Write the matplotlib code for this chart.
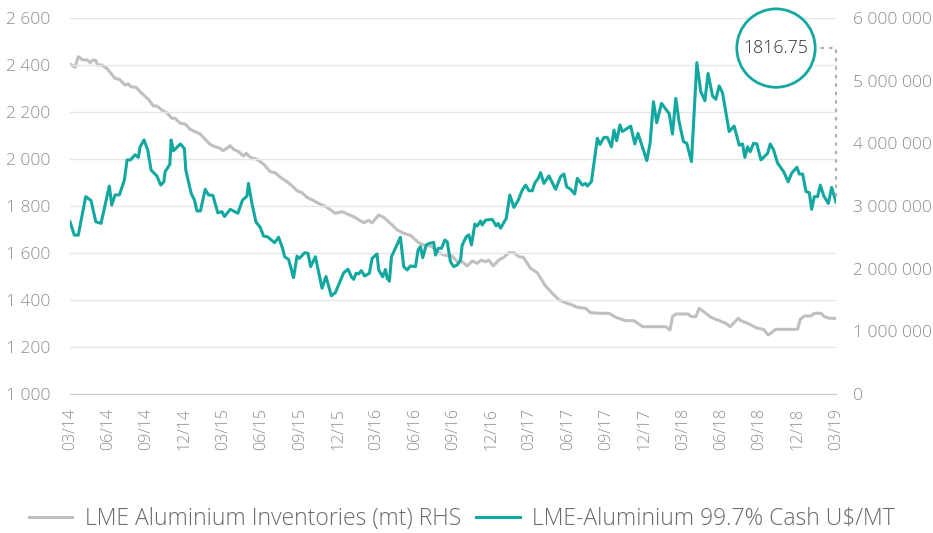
import matplotlib
matplotlib.use("Agg")
import matplotlib.pyplot as plt
from matplotlib.ticker import FuncFormatter, FixedLocator

# ---- data (x = months since 03/2014) ----
price_t = [0.00, 0.34, 0.65, 1.23, 1.65, 2.02, 2.43, 3.08, 3.27, 3.53, 3.87, 4.26, 4.47, 4.73,
           5.10, 5.36, 5.49, 5.80, 6.09, 6.35, 6.80, 7.11, 7.35, 7.45, 7.82, 7.92, 8.10, 8.65,
           8.96, 9.07, 9.49, 9.75, 9.94, 10.22, 10.59, 10.85, 11.19, 11.58, 11.90, 12.10, 12.55,
           13.15, 13.51, 13.86, 13.98, 14.25, 14.56, 14.90, 15.16, 15.47, 16.02, 16.34, 16.65,
           16.81, 17.12, 17.51, 17.78, 17.96, 18.38, 18.64, 18.85, 19.22, 19.74, 20.05, 20.47,
           20.78, 21.44, 21.78, 22.04, 22.22, 22.41, 22.61, 22.82, 23.08, 23.45, 23.66, 24.05,
           24.18, 24.49, 24.71, 24.84, 25.02, 25.18, 25.49, 25.88, 26.14, 26.41, 26.67, 27.06,
           27.27, 27.45, 27.63, 27.90, 28.16, 28.49, 28.63, 28.84, 29.10, 29.36, 29.55, 29.80,
           30.06, 30.33, 30.59, 30.72, 31.04, 31.24, 31.45, 31.71, 31.90, 32.16, 32.29, 32.55,
           33.07, 33.39, 33.54, 33.73, 33.91, 34.17, 34.45, 34.77, 35.11, 35.43, 35.69, 35.95,
           36.21, 36.42, 36.68, 36.86, 37.12, 37.51, 38.04, 38.43, 38.69, 38.90, 39.22, 39.53,
           39.74, 40.13, 40.39, 40.52, 40.84, 41.31, 41.51, 41.83, 42.09, 42.41, 42.61, 42.82,
           43.08, 43.27, 43.92, 44.24, 44.49, 45.18, 45.44, 45.70, 45.96, 46.33, 46.75, 46.93,
           47.19, 47.45, 47.71, 48.05, 48.31, 48.68, 49.10, 49.41, 49.73, 49.98, 50.33, 50.59,
           50.85, 51.11, 51.63, 52.02, 52.42, 52.68, 52.86, 53.07, 53.28, 53.54, 53.80, 54.12,
           54.64, 54.85, 55.11, 55.43, 55.90, 56.26, 56.52, 56.94, 57.12, 57.39, 57.65, 57.91,
           58.09, 58.30, 58.56, 58.77, 59.04, 59.40, 59.66, 60.00]
price = [1733, 1676, 1676, 1840, 1823, 1733, 1726, 1885, 1804, 1847, 1847, 1911, 1996, 1996,
         2018, 2007, 2052, 2081, 2038, 1953, 1928, 1889, 1903, 1946, 1977, 2081, 2035, 2064,
         2044, 1953, 1854, 1825, 1779, 1779, 1871, 1847, 1845, 1771, 1776, 1755, 1786,
         1769, 1825, 1842, 1896, 1811, 1733, 1709, 1672, 1669, 1644, 1667, 1620,
         1584, 1573, 1495, 1587, 1577, 1601, 1599, 1542, 1584, 1450, 1500, 1418,
         1431, 1516, 1531, 1499, 1488, 1514, 1511, 1525, 1502, 1514, 1577, 1596,
         1528, 1499, 1530, 1492, 1480, 1584, 1620, 1667, 1542, 1528, 1545, 1542,
         1613, 1627, 1580, 1634, 1641, 1645, 1591, 1620, 1620, 1655, 1648, 1563,
         1542, 1549, 1570, 1634, 1669, 1677, 1634, 1723, 1715, 1736, 1719, 1740,
         1743, 1715, 1726, 1705, 1723, 1747, 1847, 1794, 1825, 1868, 1889, 1865,
         1865, 1899, 1918, 1942, 1896, 1928, 1871, 1925, 1936, 1882, 1871, 1851,
         1918, 1889, 1896, 1885, 1903, 2088, 2062, 2092, 2092, 2052, 2123, 2078,
         2145, 2117, 2140, 2064, 2109, 1993, 2067, 2244, 2154, 2237, 2206, 2194,
         2106, 2258, 2159, 2074, 2067, 1989, 2410, 2286, 2248, 2364, 2268, 2254,
         2311, 2282, 2117, 2140, 2059, 2064, 2007, 2052, 2031, 2067, 2064, 1996,
         2024, 2064, 2038, 1982, 1946, 1903, 1939, 1965, 1936, 1936, 1861, 1857,
         1786, 1840, 1840, 1889, 1843, 1811, 1879, 1816.75]

inv_t = [0.00, 0.39, 0.65, 1.00, 1.36, 1.57, 1.83, 2.04, 2.14, 2.49, 2.88, 3.53, 3.87, 4.31,
         4.57, 4.76, 5.18, 5.49, 6.14, 6.53, 6.80, 7.19, 7.58, 7.98, 8.24, 8.63, 9.02, 9.41,
         9.80, 10.20, 10.59, 10.98, 11.37, 11.76, 11.98, 12.29, 12.55, 12.81, 13.20, 13.59,
         13.80, 14.12, 14.64, 15.16, 15.69, 16.08, 16.47, 17.00, 17.47, 17.78, 18.17, 18.56,
         19.08, 19.47, 20.13, 20.78, 21.31, 22.22, 23.00, 23.40, 23.66, 24.18, 24.57, 25.23,
         25.62, 26.14, 26.67, 27.32, 27.71, 28.37, 28.76, 29.28, 29.94, 30.33, 30.72, 31.11,
         31.51, 31.90, 32.21, 32.55, 32.81, 33.15, 33.59, 33.98, 34.38, 34.77, 35.16, 35.51,
         36.08, 36.60, 37.25, 37.78, 38.30, 38.82, 39.35, 39.74, 40.39, 40.78, 41.57, 42.22,
         42.75, 43.53, 44.18, 44.84, 46.67, 47.00, 47.19, 47.45, 48.42, 48.68, 49.02, 49.28,
         49.80, 50.20, 50.85, 51.37, 51.71, 52.34, 52.55, 53.07, 53.86, 54.33, 54.69, 55.29,
         56.99, 57.20, 57.51, 58.04, 58.30, 58.82, 59.08, 59.47, 60.00]
inventories = [5266000, 5213000, 5383000, 5330000, 5330000, 5287000, 5330000, 5320000, 5250000,
               5250000, 5197000, 5037000, 5021000, 4931000, 4947000, 4904000, 4894000, 4824000,
               4702000, 4596000, 4596000, 4532000, 4489000, 4399000, 4399000, 4320000, 4309000,
               4224000, 4186000, 4149000, 4064000, 3984000, 3946000, 3921000, 3883000, 3921000,
               3962000, 3905000, 3867000, 3798000, 3841000, 3777000, 3745000, 3670000, 3547000,
               3530000, 3458000, 3388000, 3308000, 3244000, 3212000, 3139000, 3085000, 3042000,
               2979000, 2883000, 2909000, 2829000, 2734000, 2770000, 2730000, 2856000, 2820000,
               2697000, 2620000, 2564000, 2530000, 2415000, 2378000, 2351000, 2271000, 2218000,
               2202000, 2111000, 2111000, 2043000, 2122000, 2085000, 2138000, 2110000, 2138000,
               2043000, 2138000, 2181000, 2255000, 2255000, 2191000, 2181000, 2005000, 1936000,
               1723000, 1607000, 1500000, 1457000, 1420000, 1383000, 1367000, 1297000, 1288000,
               1288000, 1224000, 1170000, 1170000, 1074000, 1074000, 1021000, 1234000, 1277000,
               1277000, 1234000, 1234000, 1367000, 1288000, 1224000, 1170000, 1128000, 1074000,
               1208000, 1170000, 1128000, 1048000, 1030000, 941000, 1032000, 1032000, 1192000,
               1245000, 1245000, 1288000, 1288000, 1234000, 1208000, 1208000]

tick_months = list(range(0, 61, 3))
tick_labels = ["03/14", "06/14", "09/14", "12/14", "03/15", "06/15", "09/15", "12/15",
               "03/16", "06/16", "09/16", "12/16", "03/17", "06/17", "09/17", "12/17",
               "03/18", "06/18", "09/18", "12/18", "03/19"]
last_label = "1816.75"
series_names = ["LME Aluminium Inventories (mt) RHS", "LME-Aluminium 99.7% Cash U$/MT"]

# ---- styling ----
plt.rcParams['font.family'] = ['Open Sans', 'DejaVu Sans']
plt.rcParams['font.weight'] = 'light'
TEAL = "#12a8a0"
GRAY = "#c0c0c0"
TXT = "#8c8c8c"

fig = plt.figure(figsize=(9.33, 5.33), dpi=100)
ax = fig.add_axes([70/933, 1 - 394/533, (836-70)/933, (394-18)/533])
ax2 = ax.twinx()
ax.set_zorder(ax2.get_zorder() + 1)
ax.patch.set_visible(False)

l_inv, = ax2.plot(inv_t, inventories, color=GRAY, lw=2.2, solid_joinstyle='round')
l_pr, = ax.plot(price_t, price, color=TEAL, lw=2.2, solid_joinstyle='round')

ax.set_xlim(0, 60)
ax.set_ylim(1000, 2600)
ax2.set_ylim(0, 6000000)

ax.yaxis.set_major_locator(FixedLocator(list(range(1000, 2601, 200))))
ax2.yaxis.set_major_locator(FixedLocator(list(range(0, 6000001, 1000000))))
sp = lambda v, p: f"{int(v):,}".replace(",", " ")
ax.yaxis.set_major_formatter(FuncFormatter(sp))
ax2.yaxis.set_major_formatter(FuncFormatter(sp))

ax.set_xticks(tick_months)
ax.set_xticklabels(tick_labels, rotation=90)

ax.grid(axis='y', color="#e6e6e6", lw=1)
ax.set_axisbelow(True)
for a in (ax, ax2):
    for s in a.spines.values():
        s.set_visible(False)
ax.spines['bottom'].set_visible(True)
ax.spines['bottom'].set_color("#cccccc")
ax.tick_params(axis='x', length=0, pad=10, labelsize=11.5, labelcolor=TXT)
ax.tick_params(axis='y', length=0, pad=14, labelsize=12.5, labelcolor=TXT)
ax2.tick_params(axis='y', length=0, pad=12, labelsize=12.5, labelcolor=TXT)

# annotation of the last value
cx, cy = 55.3, 2472
ax.text(cx, cy, last_label, ha='center', va='center', fontsize=12.8, color="#333333",
        zorder=6,
        bbox=dict(boxstyle='circle,pad=0.38', fc='white', ec=TEAL, lw=2))
ax.plot([58.2, 60, 60], [cy, cy, price[-1]], color="#b0b0b0", lw=1.6,
        linestyle=(0, (0.8, 3)), dash_capstyle='round', zorder=5, clip_on=False)

fig.legend([l_inv, l_pr], series_names, loc='center', bbox_to_anchor=(0.495, 1 - 519/533),
           ncol=2, frameon=False, fontsize=16.5, labelcolor="#6a6a6a",
           handlelength=1.9, handletextpad=0.55, columnspacing=0.65)

fig.savefig("out.png", dpi=100)
